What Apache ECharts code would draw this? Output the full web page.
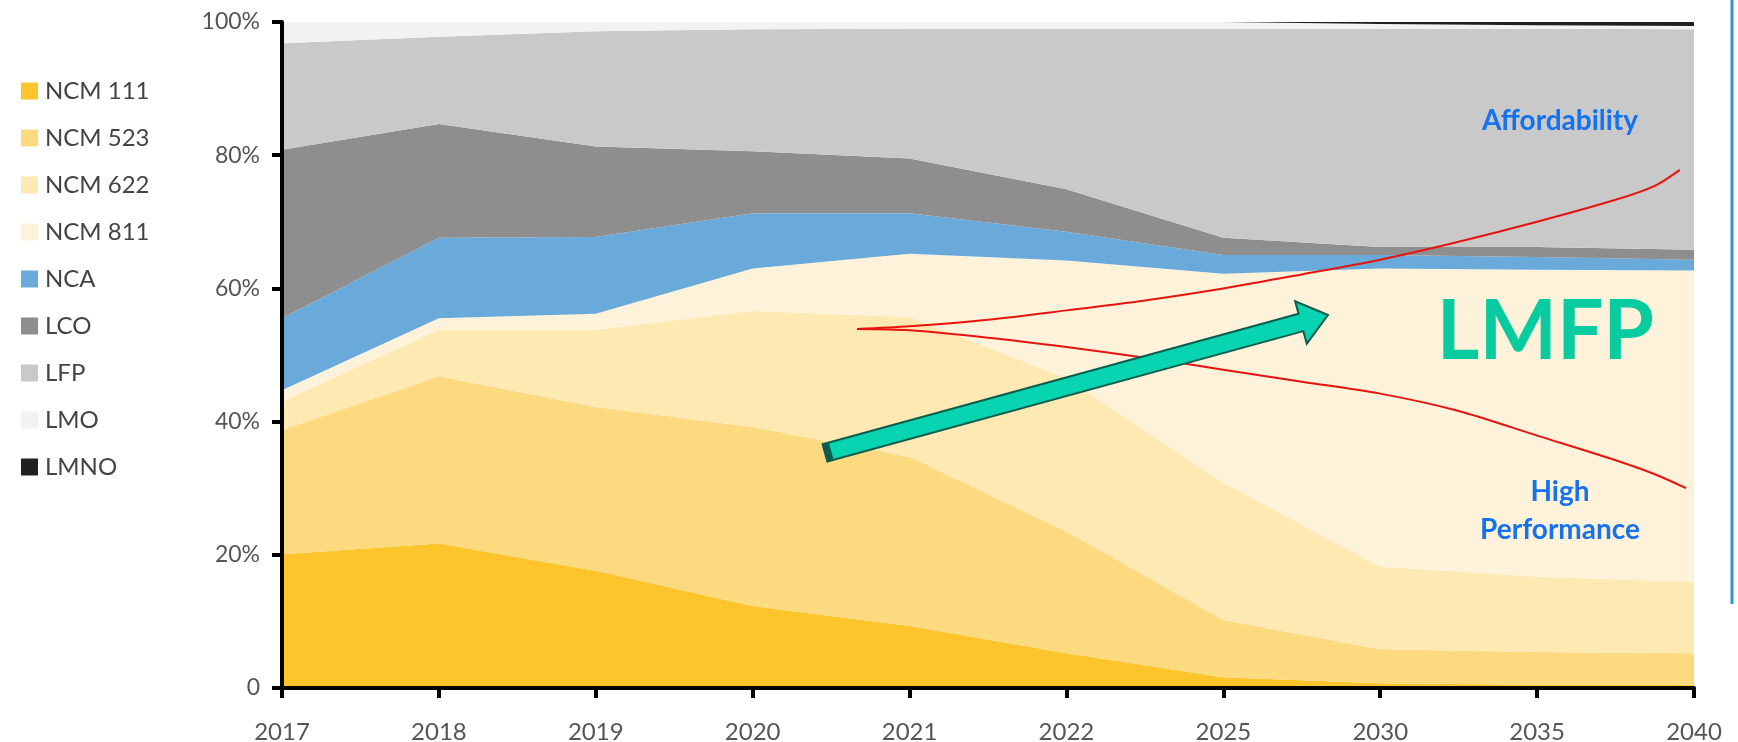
<!DOCTYPE html>
<html>
<head>
<meta charset="utf-8">
<script src="https://cdn.jsdelivr.net/npm/echarts@6/dist/echarts.min.js"></script>
<style>
html,body{margin:0;padding:0;background:#fff;}
#chart{width:1738px;height:742px;}
</style>
</head>
<body>
<div id="chart"></div>
<script>
// ---- data (percent shares) ----
var years = ['2017','2018','2019','2020','2021','2022','2025','2030','2035','2040'];
var ncm111 = [20.1, 21.7, 17.6, 12.3, 9.3, 5.2, 1.6, 0.7, 0.5, 0.5];
var ncm523 = [18.6, 25.1, 24.6, 26.9, 25.4, 18.3, 8.6, 5.1, 4.9, 4.7];
var ncm622 = [4.3, 7.0, 11.6, 17.4, 21.0, 23.0, 20.6, 12.4, 11.3, 10.7];
var ncm811 = [1.7, 1.7, 2.4, 6.4, 9.5, 17.7, 31.4, 44.8, 46.1, 46.8];
var nca    = [10.8, 12.1, 11.5, 8.3, 6.1, 4.3, 2.8, 2.0, 1.9, 1.6];
var lco    = [25.3, 17.1, 13.6, 9.3, 8.2, 6.4, 2.6, 1.2, 1.5, 1.5];
var lfp    = [16.0, 13.1, 17.3, 18.3, 19.5, 24.1, 31.4, 32.8, 32.8, 33.1];
var lmo    = [3.2, 2.2, 1.4, 1.1, 1.0, 1.0, 1.0, 0.7, 0.5, 0.5];
var lmno   = [0, 0, 0, 0, 0, 0, 0, 0.3, 0.5, 0.6];
var yTicks = [0, 20, 40, 60, 80, 100];

// ---- annotation curves, in axis units [category index, percent] ----
var affordCurve = [[3.665,53.9],[4.0,54.3],[4.5,55.3],[5.0,56.7],[5.5,58.2],[6.0,60.0],[6.5,62.1],[7.0,64.3],[7.5,67.0],[8.0,70.0],[8.5,73.3],[8.75,75.4],[8.91,77.8]];
var perfCurve   = [[3.665,53.9],[4.0,53.7],[4.5,52.6],[5.0,51.2],[5.5,49.6],[6.0,47.8],[6.5,46.0],[7.0,44.2],[7.5,41.6],[8.0,37.9],[8.5,34.2],[8.75,32.1],[8.95,30.0]];
var arrowTail = [3.461, 35.3];
var arrowTip  = [6.667, 56.0];
var notes = [
  {text:'Affordability', at:[8.146, 85.2], size:28, color:'#1572EE'},
  {text:'High', at:[8.146, 29.5], size:28, color:'#1572EE'},
  {text:'Performance', at:[8.146, 23.7], size:28, color:'#1572EE'},
  {text:'LMFP', at:[8.053, 53.3], size:82, color:'#08CBA0'}
];

var names = ['NCM 111','NCM 523','NCM 622','NCM 811','NCA','LCO','LFP','LMO','LMNO'];
var values = [ncm111, ncm523, ncm622, ncm811, nca, lco, lfp, lmo, lmno];
var colors = ['#FDC52B','#FDDA80','#FEE9B2','#FEF3DA','#6AAADA','#8E8E8E','#C9C9C9','#F2F2F2','#231F20'];

var series = names.map(function(n, i){
  return {
    name: n, type: 'line', stack: 'total', data: values[i],
    symbol: 'none', lineStyle: {width: 0}, areaStyle: {color: colors[i], opacity: 1},
    itemStyle: {color: colors[i]}, emphasis: {disabled: true}, z: 2
  };
});
[affordCurve, perfCurve].forEach(function(c){
  series.push({
    type: 'line', xAxisIndex: 1, data: c, smooth: 0.3, symbol: 'none',
    lineStyle: {color: '#E8130F', width: 2}, z: 5, silent: true
  });
});

var chart = echarts.init(document.getElementById('chart'));
chart.setOption({
  animation: false,
  backgroundColor: '#ffffff',
  grid: {left: 282, right: 44, top: 22, bottom: 54, outerBoundsMode: 'none', containLabel: false},
  legend: {
    data: names, orient: 'vertical', left: 16, top: 74,
    itemWidth: 17, itemHeight: 17, itemGap: 23, icon: 'rect',
    textStyle: {fontFamily: 'Lato', fontSize: 24, color: '#444', padding: [0,0,0,2]},
    selectedMode: false
  },
  xAxis: [{
    type: 'category', data: years, boundaryGap: false,
    axisLine: {lineStyle: {color: '#000', width: 4}},
    axisTick: {length: 10, lineStyle: {color: '#000', width: 4}},
    axisLabel: {fontFamily: 'Lato', fontSize: 24, color: '#555', margin: 32, hideOverlap: false},
    splitLine: {show: false}, z: 10
  },{
    type: 'value', min: 0, max: 9, show: false
  }],
  yAxis: {
    type: 'value', min: 0, max: 100, interval: 20,
    axisLine: {show: true, lineStyle: {color: '#000', width: 4}},
    axisTick: {show: true, length: 10, lineStyle: {color: '#000', width: 4}},
    axisLabel: {fontFamily: 'Lato', fontSize: 23, color: '#555', margin: 22,
      formatter: function(v){ return v === 0 ? '0' : v + '%'; }},
    splitLine: {show: false}, z: 10
  },
  series: series
});

// ---- graphics built from axis units ----
function px(p){ return chart.convertToPixel({xAxisIndex: 1, yAxisIndex: 0}, p); }
var T = px(arrowTail), P = px(arrowTip);
var dx = P[0]-T[0], dy = P[1]-T[1], L = Math.sqrt(dx*dx+dy*dy);
var ux = dx/L, uy = dy/L, nx = -uy, ny = ux;
var hw = 9, hhw = 22, hl = 28;
var B = [P[0]-ux*hl, P[1]-uy*hl];
function pt(b, s){ return [b[0]+nx*s, b[1]+ny*s]; }
var arrowPts = [pt(T,hw), pt(B,hw), pt(B,hhw), P, pt(B,-hhw), pt(B,-hw), pt(T,-hw)];
var T2 = [T[0]+ux*6, T[1]+uy*6];
var capPts = [pt(T,hw), pt(T2,hw), pt(T2,-hw), pt(T,-hw)];

var graphics = [
  {type:'polygon', shape:{points: arrowPts}, style:{fill:'#08D4B1', stroke:'#0B5E4E', lineWidth:2}, z:20},
  {type:'polygon', shape:{points: capPts}, style:{fill:'#0B5E4E', stroke:'#0B5E4E', lineWidth:1}, z:21},
  {type:'line', shape:{x1:1732, y1:0, x2:1732, y2:604}, style:{stroke:'#2E98D6', lineWidth:3}, z:20}
];
notes.forEach(function(n){
  var p = px(n.at);
  graphics.push({type:'text', x:p[0], y:p[1], z:22,
    style:{text:n.text, fill:n.color, font:'bold '+n.size+'px Lato', align:'center', verticalAlign:'middle'}});
});
chart.setOption({graphic: graphics});
</script>
</body>
</html>
